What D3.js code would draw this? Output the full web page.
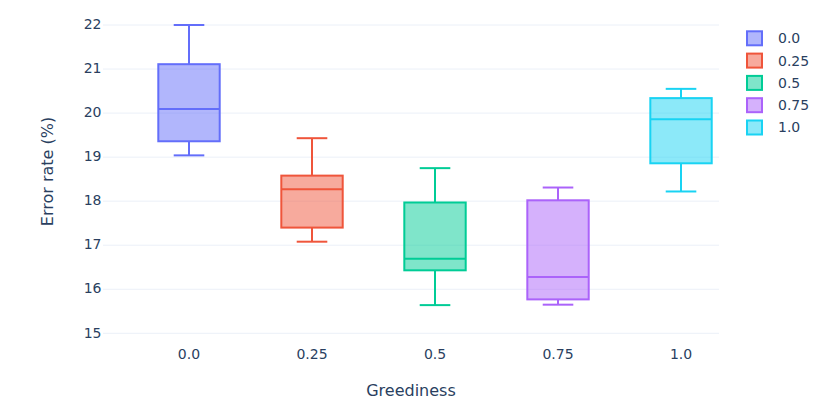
<!DOCTYPE html>
<html>
<head>
<meta charset="utf-8">
<script src="https://cdn.jsdelivr.net/npm/d3@7"></script>
<style>
  body { margin: 0; background: #fff; }
  text { font-family: "DejaVu Sans", verdana, arial, sans-serif; fill: #2a3f5f; }
</style>
</head>
<body>
<div id="chart"></div>
<script>
// greediness levels and their legend / tick labels
let greediness = [0, 0.25, 0.5, 0.75, 1.0]
let labels = ['0.0', '0.25', '0.5', '0.75', '1.0']
let colors = ['#636efa', '#EF553B', '#00cc96', '#ab63fa', '#19d3f3']

// box statistics (error rate, %)
let mins = [19.04, 17.08, 15.64, 15.65, 18.22]
let q1s = [19.36, 17.40, 16.43, 15.77, 18.86]
let medians = [20.09, 18.27, 16.69, 16.28, 19.86]
let q3s = [21.11, 18.58, 17.97, 18.02, 20.34]
let maxs = [22.0, 19.43, 18.75, 18.31, 20.55]

let yTicks = [15, 16, 17, 18, 19, 20, 21, 22]

let width = 830
let height = 413
let margin = { top: 25, left: 103, right: 111, bottom: 80 }

let svg = d3
  .select('#chart')
  .append('svg')
  .attr('width', width)
  .attr('height', height)

let xScale = d3
  .scaleLinear()
  .domain([-0.1748, 1.0772])
  .range([margin.left, width - margin.right])

let yScale = d3
  .scaleLinear()
  .domain([15, 22])
  .range([333.3, margin.top])

let boxHalf = 30.7
let capHalf = 15.3

// grid + y tick labels
svg
  .append('g')
  .selectAll('line')
  .data(yTicks)
  .enter()
  .append('line')
  .attr('x1', margin.left)
  .attr('x2', width - margin.right)
  .attr('y1', d => yScale(d))
  .attr('y2', d => yScale(d))
  .attr('stroke', '#ebf0f8')
  .attr('stroke-width', 1)

svg
  .append('g')
  .selectAll('text')
  .data(yTicks)
  .enter()
  .append('text')
  .attr('x', 101.5)
  .attr('y', d => yScale(d))
  .attr('dy', '0.3em')
  .attr('text-anchor', 'end')
  .attr('font-size', '14px')
  .text(d => d)

// x tick labels
svg
  .append('g')
  .selectAll('text')
  .data(greediness)
  .enter()
  .append('text')
  .attr('x', d => xScale(d))
  .attr('y', 359)
  .attr('text-anchor', 'middle')
  .attr('font-size', '14px')
  .text((d, i) => labels[i])

// boxes
let boxes = svg
  .append('g')
  .selectAll('g')
  .data(greediness)
  .enter()
  .append('g')

boxes.each(function(d, i) {
  let g = d3.select(this)
  let cx = xScale(d)
  let c = colors[i]

  // whiskers
  g.append('line')
    .attr('x1', cx).attr('x2', cx)
    .attr('y1', yScale(maxs[i])).attr('y2', yScale(q3s[i]))
    .attr('stroke', c).attr('stroke-width', 2)
  g.append('line')
    .attr('x1', cx).attr('x2', cx)
    .attr('y1', yScale(q1s[i])).attr('y2', yScale(mins[i]))
    .attr('stroke', c).attr('stroke-width', 2)
  g.append('line')
    .attr('x1', cx - capHalf).attr('x2', cx + capHalf)
    .attr('y1', yScale(maxs[i])).attr('y2', yScale(maxs[i]))
    .attr('stroke', c).attr('stroke-width', 2)
  g.append('line')
    .attr('x1', cx - capHalf).attr('x2', cx + capHalf)
    .attr('y1', yScale(mins[i])).attr('y2', yScale(mins[i]))
    .attr('stroke', c).attr('stroke-width', 2)

  g.append('rect')
    .attr('x', cx - boxHalf)
    .attr('width', boxHalf * 2)
    .attr('y', yScale(q3s[i]))
    .attr('height', yScale(q1s[i]) - yScale(q3s[i]))
    .attr('fill', c)
    .attr('fill-opacity', 0.5)
    .attr('stroke', c)
    .attr('stroke-width', 2)

  g.append('line')
    .attr('x1', cx - boxHalf).attr('x2', cx + boxHalf)
    .attr('y1', yScale(medians[i])).attr('y2', yScale(medians[i]))
    .attr('stroke', c).attr('stroke-width', 2)
})

// axis titles
svg
  .append('text')
  .attr('x', (margin.left + width - margin.right) / 2)
  .attr('y', 396)
  .attr('text-anchor', 'middle')
  .attr('font-size', '16px')
  .text('Greediness')

svg
  .append('text')
  .attr('transform', 'translate(53, 171.5) rotate(-90)')
  .attr('text-anchor', 'middle')
  .attr('font-size', '16px')
  .text('Error rate (%)')

// legend
let legend = svg
  .append('g')
  .selectAll('g')
  .data(labels)
  .enter()
  .append('g')
  .attr('transform', (d, i) => `translate(747, ${38.3 + i * 22.3})`)

legend
  .append('rect')
  .attr('x', 0)
  .attr('y', -7)
  .attr('width', 15)
  .attr('height', 14)
  .attr('fill', (d, i) => colors[i])
  .attr('fill-opacity', 0.5)
  .attr('stroke', (d, i) => colors[i])
  .attr('stroke-width', 2)

legend
  .append('text')
  .attr('x', 31)
  .attr('y', 0)
  .attr('dy', '0.35em')
  .attr('font-size', '14px')
  .text(d => d)
</script>
</body>
</html>
